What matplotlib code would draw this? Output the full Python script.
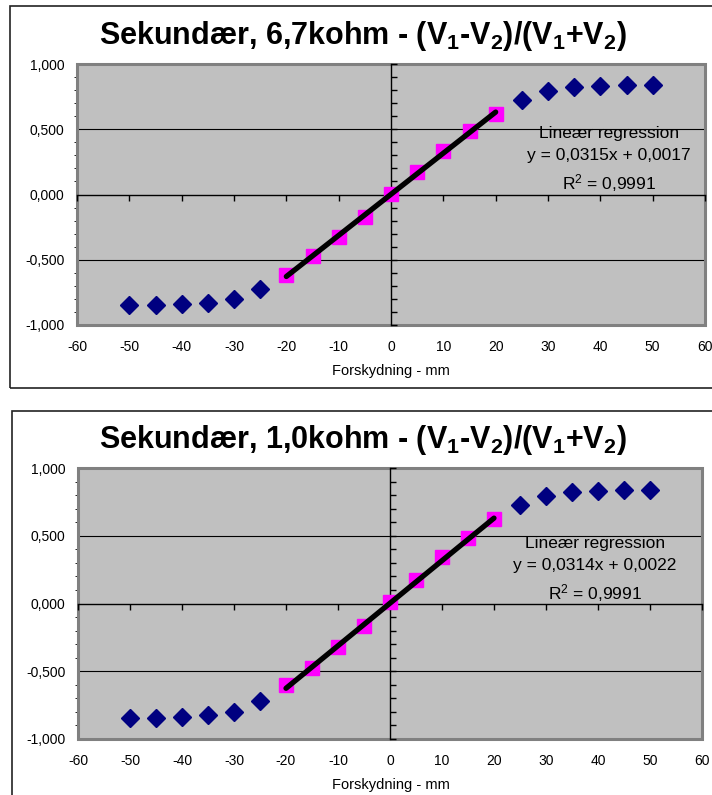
import matplotlib
matplotlib.use("Agg")
import matplotlib.pyplot as plt
from matplotlib.patches import Rectangle
from matplotlib.ticker import MultipleLocator, FuncFormatter

plt.rcParams['font.family'] = ['Liberation Sans', 'DejaVu Sans']
plt.rcParams['mathtext.fontset'] = 'custom'
plt.rcParams['mathtext.rm'] = 'Liberation Sans'
plt.rcParams['mathtext.bf'] = 'Liberation Sans:bold'
plt.rcParams['mathtext.it'] = 'Liberation Sans:italic'

# forskydning (mm)
x_mm = [-50, -45, -40, -35, -30, -25, -20, -15, -10, -5, 0,
        5, 10, 15, 20, 25, 30, 35, 40, 45, 50]

# (V1-V2)/(V1+V2), 6,7 kohm
y_67 = [-0.850, -0.845, -0.840, -0.830, -0.800, -0.725, -0.615, -0.475, -0.325, -0.170, 0.005,
        0.175, 0.335, 0.485, 0.620, 0.725, 0.795, 0.825, 0.835, 0.840, 0.840]
# (V1-V2)/(V1+V2), 1,0 kohm
y_10 = [-0.845, -0.845, -0.840, -0.825, -0.800, -0.720, -0.605, -0.475, -0.320, -0.165, 0.010,
        0.175, 0.340, 0.485, 0.620, 0.725, 0.795, 0.820, 0.830, 0.835, 0.840]

# lineaert omraade
lin_min, lin_max = -20, 20

titles = [r"Sekundær, 6,7kohm - (V$_\mathbf{1}$-V$_\mathbf{2}$)/(V$_\mathbf{1}$+V$_\mathbf{2}$)",
          r"Sekundær, 1,0kohm - (V$_\mathbf{1}$-V$_\mathbf{2}$)/(V$_\mathbf{1}$+V$_\mathbf{2}$)"]
slopes = [0.0315, 0.0314]
intercepts = [0.0017, 0.0022]
r2 = [0.9991, 0.9991]

W, H = 712, 795
fig = plt.figure(figsize=(W / 100, H / 100), dpi=100)


def px_rect(l, t, r, b):
    return [l / W, 1 - b / H, (r - l) / W, (b - t) / H]


def komma(v, dec):
    return f"{v:.{dec}f}".replace('.', ',')


def draw_chart(frame, plot, title_y, xlabel_y, ys, title, a, b, rr, eq_pos):
    l, t, r, bt = frame
    fig.patches.append(Rectangle((l / W, 1 - bt / H), (r - l) / W, (bt - t) / H,
                                 transform=fig.transFigure, fill=False,
                                 edgecolor='#222222', lw=1.2))
    fig.text(363 / W, 1 - title_y / H, title, fontsize=22, fontweight='bold',
             ha='center', va='center')

    ax = fig.add_axes(px_rect(*plot))
    ax.set_xlim(-60, 60)
    ax.set_ylim(-1, 1)
    ax.set_facecolor('#c0c0c0')
    for s in ax.spines.values():
        s.set_visible(False)
    ax.add_patch(Rectangle((0, 0), 1, 1, transform=ax.transAxes, fill=False,
                           edgecolor='#808080', lw=2.2, zorder=5, clip_on=False))
    ax.xaxis.set_major_locator(MultipleLocator(10))
    ax.yaxis.set_major_locator(MultipleLocator(0.5))
    ax.yaxis.set_major_formatter(FuncFormatter(lambda v, p: komma(v, 3)))
    ax.xaxis.set_major_formatter(FuncFormatter(lambda v, p: f"{v:.0f}"))
    ax.tick_params(axis='x', length=0, labelsize=10, pad=11)
    ax.tick_params(axis='y', length=0, labelsize=10, pad=9)
    for g in (-0.5, 0.5):
        ax.axhline(g, color='black', lw=0.8, zorder=1)

    # akser gennem nul
    az = fig.add_axes(px_rect(*plot), sharex=ax, sharey=ax)
    az.patch.set_visible(False)
    az.spines['left'].set_position(('data', 0))
    az.spines['bottom'].set_position(('data', 0))
    az.spines['top'].set_visible(False)
    az.spines['right'].set_visible(False)
    az.spines['left'].set_linewidth(1.0)
    az.spines['bottom'].set_linewidth(1.0)
    az.yaxis.set_minor_locator(MultipleLocator(0.1))
    az.tick_params(axis='x', which='both', direction='out', length=4, width=1,
                   labelbottom=False)
    az.tick_params(axis='y', which='both', direction='in', length=4, width=1,
                   labelleft=False)
    az.set_zorder(ax.get_zorder() + 1)

    ox = [v for v in x_mm if not lin_min <= v <= lin_max]
    oy = [yv for v, yv in zip(x_mm, ys) if not lin_min <= v <= lin_max]
    az.plot(ox, oy, linestyle='none', marker='D', markersize=9.5,
            color='#000080', zorder=3, clip_on=False)
    lx = [v for v in x_mm if lin_min <= v <= lin_max]
    ly = [yv for v, yv in zip(x_mm, ys) if lin_min <= v <= lin_max]
    az.plot(lx, ly, linestyle='none', marker='s', markersize=10.5,
            color='#ff00ff', zorder=4)
    az.plot([lin_min, lin_max], [a * lin_min + b, a * lin_max + b],
            color='black', lw=3.8, zorder=6, solid_capstyle='round')

    ex, ey = eq_pos
    az.text(ex, ey, "Lineær regression\n"
            f"y = {komma(a, 4)}x + {komma(b, 4)}\n"
            f"R$^2$ = {komma(rr, 4)}",
            fontsize=12.5, ha='center', va='top', linespacing=1.55, zorder=7)

    fig.text(391 / W, 1 - xlabel_y / H, "Forskydning - mm", fontsize=10.5,
             ha='center', va='center')


draw_chart((10, 6, 730, 388), (77, 64, 705, 325), 36, 371, y_67, titles[0],
           slopes[0], intercepts[0], r2[0], (41.6, 0.525))
draw_chart((12, 411, 730, 810), (78, 468, 702, 739), 440, 785, y_10, titles[1],
           slopes[1], intercepts[1], r2[1], (39.4, 0.495))

fig.savefig("out.png", dpi=100)
